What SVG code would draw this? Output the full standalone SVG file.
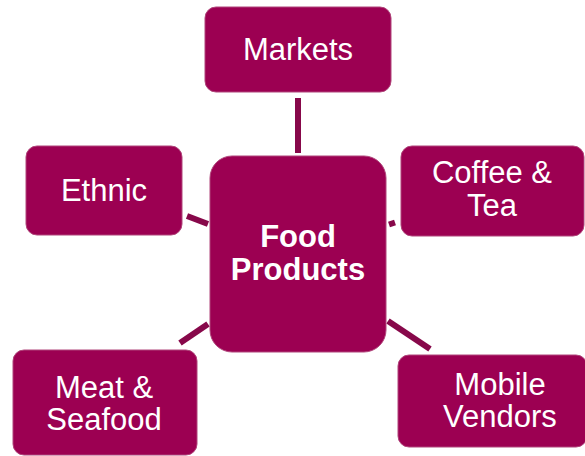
<svg xmlns="http://www.w3.org/2000/svg" width="585" height="456" viewBox="0 0 585 456">
<style>
.box{fill:#9C0052;stroke:#B0457A;stroke-width:1}
.t{font-family:"Liberation Sans",Arial,sans-serif;font-size:31px;fill:#ffffff;text-anchor:middle}
.b{font-weight:bold}
.c{stroke:#87084A;stroke-width:6;fill:none}
</style>
<rect width="585" height="456" fill="#ffffff"/>
<g id="connectors">
<line class="c" x1="298" y1="98" x2="298" y2="153"/>
<line class="c" x1="187" y1="216" x2="208" y2="224"/>
<line class="c" x1="389" y1="224.5" x2="395" y2="222.5"/>
<line class="c" x1="180" y1="343" x2="208" y2="324"/>
<line class="c" x1="388" y1="321" x2="430" y2="349"/>
</g>
<g id="markets">
<rect class="box" x="205" y="7" width="186" height="85" rx="11"/>
<text class="t" x="298" y="60">Markets</text>
</g>
<g id="ethnic">
<rect class="box" x="26" y="146" width="156" height="89" rx="11"/>
<text class="t" x="104" y="201">Ethnic</text>
</g>
<g id="coffee">
<rect class="box" x="401" y="146" width="183" height="90" rx="11"/>
<text class="t" x="492" y="183">Coffee &amp;</text>
<text class="t" x="492" y="216">Tea</text>
</g>
<g id="food">
<rect class="box" x="210" y="156" width="176" height="196" rx="22"/>
<text class="t b" x="298" y="247">Food</text>
<text class="t b" x="298" y="280">Products</text>
</g>
<g id="meat">
<rect class="box" x="13" y="350" width="184" height="105" rx="11"/>
<text class="t" x="104" y="398">Meat &amp;</text>
<text class="t" x="104" y="430">Seafood</text>
</g>
<g id="mobile">
<rect class="box" x="398" y="355" width="189" height="92" rx="11"/>
<text class="t" x="500" y="395">Mobile</text>
<text class="t" x="500" y="427">Vendors</text>
</g>
</svg>
